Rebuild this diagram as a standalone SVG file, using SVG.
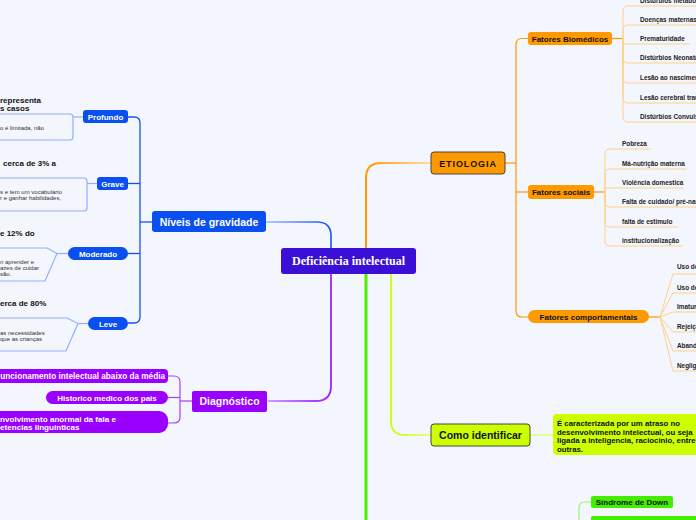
<svg xmlns="http://www.w3.org/2000/svg" width="696" height="520" viewBox="0 0 696 520">
<defs>
<style>
.b{font-family:"Liberation Sans",Arial,sans-serif;font-weight:bold}
.r{font-family:"Liberation Sans",Arial,sans-serif}
.w{fill:#fff}
.k{fill:#111}
.leaf{font-family:"Liberation Sans",Arial,sans-serif;font-weight:bold;font-size:6.4px;fill:#222}
.desc{font-family:"Liberation Sans",Arial,sans-serif;font-size:6px;fill:#333}
.ttl{font-family:"Liberation Sans",Arial,sans-serif;font-weight:bold;font-size:8px;fill:#111}
.bl{fill:none;stroke:#1452f0;stroke-width:1.3}
.blt{fill:none;stroke:#8fb0ff;stroke-width:1.2}
.pu{fill:none;stroke:#a040ff;stroke-width:1.2}
.or{fill:none;stroke:#ff9900;stroke-width:1.2}
.orl{fill:none;stroke:#ffd08a;stroke-width:1}
</style>
<linearGradient id="gBlue" gradientUnits="userSpaceOnUse" x1="266" y1="0" x2="331" y2="0"><stop offset="0" stop-color="#9ab8ff"/><stop offset="1" stop-color="#1452f0"/></linearGradient>
<linearGradient id="gOr" gradientUnits="userSpaceOnUse" x1="366" y1="0" x2="431" y2="0"><stop offset="0" stop-color="#ff9900"/><stop offset="1" stop-color="#ffdca8"/></linearGradient>
<linearGradient id="gPu" gradientUnits="userSpaceOnUse" x1="268" y1="0" x2="331" y2="0"><stop offset="0" stop-color="#d09cff"/><stop offset="1" stop-color="#a020ff"/></linearGradient>
<linearGradient id="gYe" gradientUnits="userSpaceOnUse" x1="391" y1="0" x2="431" y2="0"><stop offset="0" stop-color="#ccff00"/><stop offset="1" stop-color="#e6ff88"/></linearGradient>
</defs>
<rect width="696" height="520" fill="#f4f6fd"/>

<g id="connectors">
<path d="M331,248 L331,236 Q331,222 317,222 L266,222" fill="none" stroke="url(#gBlue)" stroke-width="1.6"/>
<path d="M366,248 L366,178 Q366,163 381,163 L431,163" fill="none" stroke="url(#gOr)" stroke-width="2"/>
<path d="M331,274 L331,386 Q331,401 316,401 L268,401" fill="none" stroke="url(#gPu)" stroke-width="1.8"/>
<path d="M391,274 L391,421 Q391,435 405,435 L431,435" fill="none" stroke="url(#gYe)" stroke-width="1.8"/>
<path d="M366,274 L366,520" fill="none" stroke="#4cf000" stroke-width="3"/>
<path d="M530,435 L553,435" fill="none" stroke="#ddff66" stroke-width="1.3"/>
<path d="M591,502 L585,502 Q579,502 579,508 L579,520" fill="none" stroke="#99ee77" stroke-width="1.2"/>
<path class="bl" d="M152,222 L140,222"/>
<path class="bl" d="M128,117 L134,117 Q140,117 140,123 L140,317 Q140,323 134,323 L128,323"/>
<path class="bl" d="M128,183.5 L140,183.5"/>
<path class="bl" d="M128,253.5 L140,253.5"/>
<path class="blt" d="M73,117 L83,117"/>
<path class="blt" d="M87,183.5 L97,183.5"/>
<path class="blt" d="M57,253.5 L68,253.5"/>
<path class="blt" d="M78,323.5 L88,323.5"/>
<path class="pu" d="M192,401 L180,401"/>
<path class="pu" d="M168,376 L174,376 Q180,376 180,382 L180,417 Q180,423 174,423 L168,423"/>
<path class="pu" d="M168,397.5 L180,397.5"/>
<path class="or" d="M505,163 L516,163"/>
<path class="or" d="M528,38.5 L522,38.5 Q516,38.5 516,44.5 L516,311 Q516,317 522,317 L528,317"/>
<path class="or" d="M516,192 L528,192"/>
<path class="or" d="M612,38.5 L623,38.5"/>
<path class="orl" d="M623,38 L623,11 Q623,6 628,6 L700,6"/>
<path class="orl" d="M623,38 L623,30 Q623,25 628,25 L700,25"/>
<path class="orl" d="M623,38 L623,44 L690,44"/>
<path class="orl" d="M623,38 L623,58 Q623,63 628,63 L700,63"/>
<path class="orl" d="M623,38 L623,78 Q623,83 628,83 L700,83"/>
<path class="orl" d="M623,38 L623,98 Q623,103 628,103 L700,103"/>
<path class="orl" d="M623,38 L623,117 Q623,122 628,122 L700,122"/>
<path class="or" d="M594,192 L605,192"/>
<path class="orl" d="M605,192 L605,154 Q605,149 610,149 L651,149"/>
<path class="orl" d="M605,192 L605,174 Q605,169 610,169 L687,169"/>
<path class="orl" d="M605,192 L605,188 L683,188"/>
<path class="orl" d="M605,192 L605,202 Q605,207 610,207 L700,207"/>
<path class="orl" d="M605,192 L605,222 Q605,227 610,227 L678,227"/>
<path class="orl" d="M605,192 L605,241 Q605,246 610,246 L683,246"/>
<path class="or" d="M649,317 L660,317"/>
<path class="orl" d="M660,317 L673,274 L700,274"/>
<path class="orl" d="M660,317 L673,293 L700,293"/>
<path class="orl" d="M660,317 L673,312 L700,312"/>
<path class="orl" d="M660,317 L673,332 L700,332"/>
<path class="orl" d="M660,317 L673,351 L700,351"/>
<path class="orl" d="M660,317 L673,371 L700,371"/>
</g>

<g id="central">
<rect x="281" y="248" width="135" height="26" rx="3" fill="#3a10d6"/>
<text x="348.5" y="265" text-anchor="middle" font-family="'Liberation Serif','Times New Roman',serif" font-weight="bold" font-size="12" fill="#fff">Deficiência intelectual</text>
</g>

<g id="niveis">
<rect x="152" y="211" width="114" height="21" rx="3" fill="#0a50f0"/>
<text class="b w" x="209" y="225.5" text-anchor="middle" font-size="10.5">Níveis de gravidade</text>
</g>
<g id="profundo">
<rect x="83" y="110" width="45" height="13" rx="3" fill="#0a50f0"/>
<text class="b w" x="105.5" y="119.5" text-anchor="middle" font-size="8">Profundo</text>
</g>
<g id="profundo-desc">
<text class="ttl" x="0" y="103">representa</text>
<text class="ttl" x="0" y="111">s casos</text>
<rect x="-10" y="114" width="83" height="26" rx="3" fill="none" stroke="#8fb0ff" stroke-width="1.2"/>
<text class="desc" x="0" y="130">o é limitada, não</text>
</g>
<g id="grave">
<rect x="97" y="177" width="31" height="13" rx="3" fill="#0a50f0"/>
<text class="b w" x="112.5" y="186.5" text-anchor="middle" font-size="8">Grave</text>
</g>
<g id="grave-desc">
<text class="ttl" x="3" y="166">cerca de 3% a</text>
<rect x="-10" y="178" width="97" height="33" rx="3" fill="none" stroke="#8fb0ff" stroke-width="1.2"/>
<text class="desc" x="0" y="194">s e tem um vocabulario</text>
<text class="desc" x="0" y="200">r e ganhar habilidades,</text>
</g>
<g id="moderado">
<rect x="68" y="247" width="60" height="13" rx="6.5" fill="#0a50f0"/>
<text class="b w" x="98" y="256.5" text-anchor="middle" font-size="8">Moderado</text>
</g>
<g id="moderado-desc">
<text class="ttl" x="0" y="236">e 12% do</text>
<path d="M-10,248 L47,248 L57,253.5 L45,281 L-10,281 Z" fill="none" stroke="#8fb0ff" stroke-width="1.2"/>
<text class="desc" x="0" y="264">n aprender e</text>
<text class="desc" x="0" y="270">azes de cuidar</text>
<text class="desc" x="0" y="276">são.</text>
</g>
<g id="leve">
<rect x="88" y="317" width="40" height="13" rx="6.5" fill="#0a50f0"/>
<text class="b w" x="108" y="326.5" text-anchor="middle" font-size="8">Leve</text>
</g>
<g id="leve-desc">
<text class="ttl" x="0" y="306">erca de 80%</text>
<path d="M-10,318 L67,318 L78,323.5 L66,351 L-10,351 Z" fill="none" stroke="#8fb0ff" stroke-width="1.2"/>
<text class="desc" x="0" y="335">as necessidades</text>
<text class="desc" x="0" y="341">que as crianças</text>
</g>

<g id="diagnostico">
<rect x="192" y="391" width="75" height="21" rx="2" fill="#9900ff"/>
<text class="b w" x="229.5" y="405" text-anchor="middle" font-size="10.5">Diagnóstico</text>
</g>
<g id="diag-1">
<rect x="-10" y="369" width="178" height="14" rx="4" fill="#9900ff"/>
<text class="b w" x="165" y="379" text-anchor="end" font-size="8.2">uncionamento intelectual abaixo da média</text>
</g>
<g id="diag-2">
<rect x="46" y="391" width="122" height="13" rx="6.5" fill="#9900ff"/>
<text class="b w" x="107" y="400.5" text-anchor="middle" font-size="8">Historico medico dos pais</text>
</g>
<g id="diag-3">
<rect x="-10" y="411" width="178" height="22" rx="9" fill="#9900ff"/>
<text class="b w" x="0" y="421.5" font-size="8.1">nvolvimento anormal da fala e</text>
<text class="b w" x="0" y="429.5" font-size="8.1">etencias linguinticas</text>
</g>

<g id="etiologia">
<rect x="431" y="152" width="74" height="22" rx="3" fill="#ff9900" stroke="#444" stroke-width="1"/>
<text class="b k" x="468" y="166.5" text-anchor="middle" font-size="9" letter-spacing="0.9">ETIOLOGIA</text>
</g>
<g id="biomedicos">
<rect x="528" y="32" width="84" height="13" rx="3" fill="#ff9900"/>
<text class="b k" x="570" y="41.5" text-anchor="middle" font-size="8">Fatores Biomédicos</text>
</g>
<g id="bio-items">
<text class="leaf" x="640" y="3">Distúrbios metabólicos</text>
<text class="leaf" x="640" y="22">Doenças maternas</text>
<text class="leaf" x="640" y="41">Prematuridade</text>
<text class="leaf" x="640" y="60">Distúrbios Neonatais</text>
<text class="leaf" x="640" y="80">Lesão ao nascimento</text>
<text class="leaf" x="640" y="100">Lesão cerebral traumática</text>
<text class="leaf" x="640" y="119">Distúrbios Convulsivos</text>
</g>
<g id="sociais">
<rect x="528" y="185" width="66" height="14" rx="3" fill="#ff9900"/>
<text class="b k" x="561" y="195" text-anchor="middle" font-size="8">Fatores sociais</text>
</g>
<g id="soc-items">
<text class="leaf" x="622" y="146">Pobreza</text>
<text class="leaf" x="622" y="166">Má-nutrição materna</text>
<text class="leaf" x="622" y="185">Violência domestica</text>
<text class="leaf" x="622" y="204">Falta de cuidado/ pré-natal</text>
<text class="leaf" x="622" y="224">falta de estimulo</text>
<text class="leaf" x="622" y="243">institucionalização</text>
</g>
<g id="comportamentais">
<rect x="528" y="310" width="121" height="13" rx="6.5" fill="#ff9900"/>
<text class="b k" x="588.5" y="319.5" text-anchor="middle" font-size="8">Fatores comportamentais</text>
</g>
<g id="comp-items">
<text class="leaf" x="677" y="269">Uso de álcool</text>
<text class="leaf" x="677" y="290">Uso de drogas</text>
<text class="leaf" x="677" y="309">Imaturidade parental</text>
<text class="leaf" x="677" y="329">Rejeição</text>
<text class="leaf" x="677" y="348">Abandono</text>
<text class="leaf" x="677" y="368">Negligência</text>
</g>

<g id="como">
<rect x="431" y="424" width="99" height="22" rx="3" fill="#ccff00" stroke="#444" stroke-width="1"/>
<text class="b k" x="480.5" y="439" text-anchor="middle" font-size="10.5">Como identificar</text>
</g>
<g id="como-desc">
<rect x="553" y="414" width="160" height="41" rx="4" fill="#ccff00"/>
<text class="b k" x="557" y="426" font-size="7.8">É caracterizada por um atraso no</text>
<text class="b k" x="557" y="434.5" font-size="7.8">desenvolvimento intelectual, ou seja</text>
<text class="b k" x="557" y="443" font-size="7.8">ligada a inteligencia, raciocinio, entre</text>
<text class="b k" x="557" y="451.5" font-size="7.8">outras.</text>
</g>
<g id="sindrome">
<rect x="591" y="496" width="82" height="12" rx="2" fill="#44ee00"/>
<text class="b k" x="632" y="505" text-anchor="middle" font-size="8">Síndrome de Down</text>
</g>
<g id="next-green">
<rect x="591" y="516" width="120" height="12" rx="2" fill="#44ee00"/>
</g>
</svg>
